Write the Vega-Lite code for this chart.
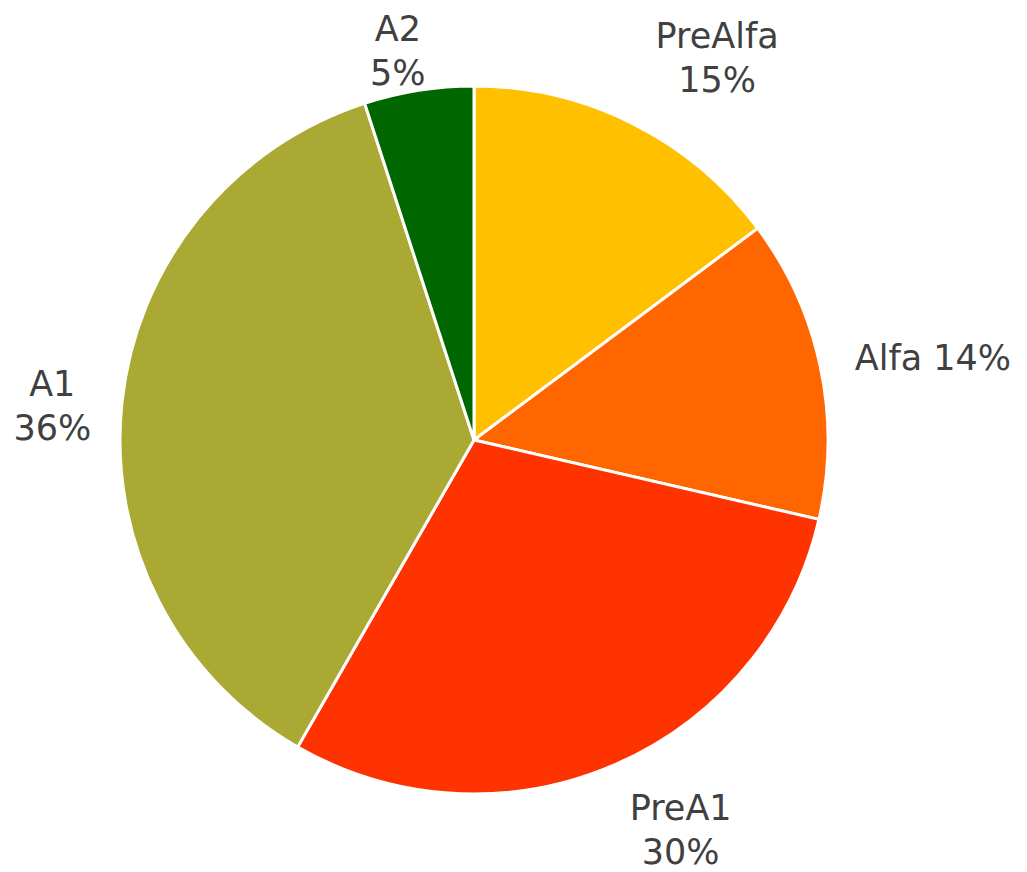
{
  "$schema": "https://vega.github.io/schema/vega-lite/v6.json",
  "width": 948,
  "height": 864,
  "autosize": "none",
  "padding": {"left": 0, "top": 8, "right": 79, "bottom": 0},
  "background": "white",
  "config": {"view": {"stroke": null}},
  "data": {
    "values": [
      {"i": 1, "cat": "PreAlfa", "value": 14.8, "label": "PreAlfa\n15%"},
      {"i": 2, "cat": "Alfa", "value": 13.8, "label": "Alfa 14%"},
      {"i": 3, "cat": "PreA1", "value": 29.7, "label": "PreA1\n30%"},
      {"i": 4, "cat": "A1", "value": 36.7, "label": "A1\n36%"},
      {"i": 5, "cat": "A2", "value": 5.0, "label": "A2\n5%"}
    ]
  },
  "encoding": {
    "theta": {"field": "value", "type": "quantitative", "stack": true},
    "order": {"field": "i", "type": "quantitative"},
    "color": {
      "field": "cat",
      "type": "nominal",
      "scale": {
        "domain": ["PreAlfa", "Alfa", "PreA1", "A1", "A2"],
        "range": ["#FFC000", "#FF6600", "#FF3300", "#A9A934", "#006600"]
      },
      "legend": null
    }
  },
  "layer": [
    {"mark": {"type": "arc", "outerRadius": 354, "stroke": "white", "strokeWidth": 3}},
    {
      "mark": {"type": "text", "radius": 452, "thetaOffset": 0.103, "dy": -22, "font": "DejaVu Sans", "fontSize": 35, "lineHeight": 44, "lineBreak": "\n", "align": "center", "baseline": "middle", "color": "#404040"},
      "encoding": {"color": {"value": "#404040"}, "text": {"condition": {"test": "datum.cat === 'PreAlfa'", "field": "label"}, "value": ""}}
    },
    {
      "mark": {"type": "text", "radius": 466, "thetaOffset": 0.033, "font": "DejaVu Sans", "fontSize": 35, "lineHeight": 44, "lineBreak": "\n", "align": "center", "baseline": "middle", "color": "#404040"},
      "encoding": {"color": {"value": "#404040"}, "text": {"condition": {"test": "datum.cat === 'Alfa'", "field": "label"}, "value": ""}}
    },
    {
      "mark": {"type": "text", "radius": 442, "thetaOffset": -0.075, "dy": -22, "font": "DejaVu Sans", "fontSize": 35, "lineHeight": 44, "lineBreak": "\n", "align": "center", "baseline": "middle", "color": "#404040"},
      "encoding": {"color": {"value": "#404040"}, "text": {"condition": {"test": "datum.cat === 'PreA1'", "field": "label"}, "value": ""}}
    },
    {
      "mark": {"type": "text", "radius": 423, "thetaOffset": -0.026, "dy": -22, "font": "DejaVu Sans", "fontSize": 35, "lineHeight": 44, "lineBreak": "\n", "align": "center", "baseline": "middle", "color": "#404040"},
      "encoding": {"color": {"value": "#404040"}, "text": {"condition": {"test": "datum.cat === 'A1'", "field": "label"}, "value": ""}}
    },
    {
      "mark": {"type": "text", "radius": 395, "thetaOffset": -0.037, "dy": -22, "font": "DejaVu Sans", "fontSize": 35, "lineHeight": 44, "lineBreak": "\n", "align": "center", "baseline": "middle", "color": "#404040"},
      "encoding": {"color": {"value": "#404040"}, "text": {"condition": {"test": "datum.cat === 'A2'", "field": "label"}, "value": ""}}
    }
  ]
}
